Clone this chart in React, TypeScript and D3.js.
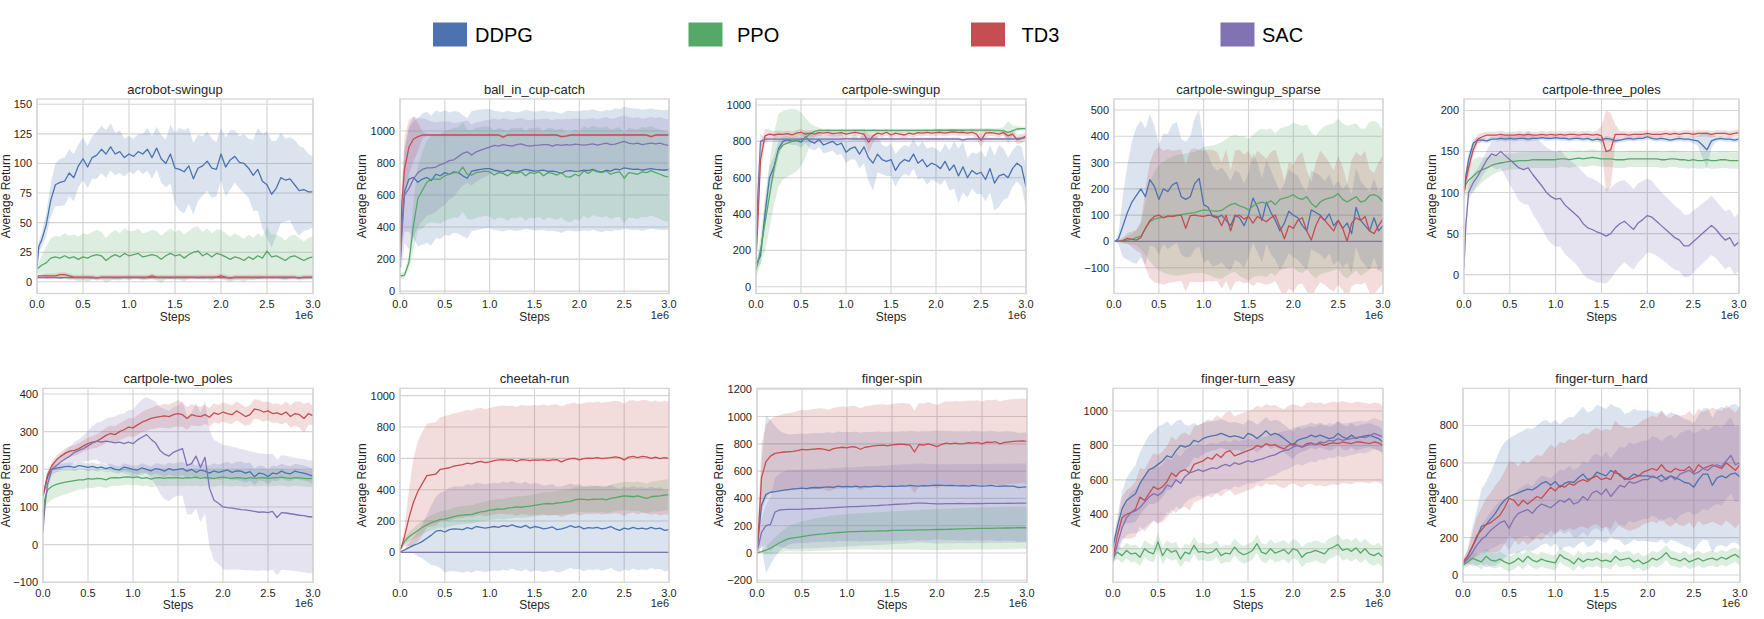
import React from "react";
import * as d3 from "d3";

// ---------- shared data ----------
const STEPS = [0, 0.02, 0.05, 0.1, 0.15, 0.2, 0.25, 0.3, 0.35, 0.4, 0.45, 0.5,
  0.55, 0.6, 0.65, 0.7, 0.75, 0.8, 0.85, 0.9, 0.95, 1.0,
  1.05, 1.1, 1.15, 1.2, 1.25, 1.3, 1.35, 1.4, 1.45, 1.5,
  1.55, 1.6, 1.65, 1.7, 1.75, 1.8, 1.85, 1.9, 1.95, 2.0,
  2.05, 2.1, 2.15, 2.2, 2.25, 2.3, 2.35, 2.4, 2.45, 2.5,
  2.55, 2.6, 2.65, 2.7, 2.75, 2.8, 2.85, 2.9, 2.95, 3.0];
const X_TICKS = [0, 0.5, 1.0, 1.5, 2.0, 2.5, 3.0];
const ALGOS = ["DDPG", "PPO", "TD3", "SAC"];
const TASKS = ["acrobot-swingup", "ball_in_cup-catch", "cartpole-swingup", "cartpole-swingup_sparse", "cartpole-three_poles",
  "cartpole-two_poles", "cheetah-run", "finger-spin", "finger-turn_easy", "finger-turn_hard"];
const Y_DOMAINS = [[-9.9, 154.5], [-15, 1200], [-37, 1033], [-198, 542], [-23, 214],
  [-100, 415], [-191, 1047], [-215, 1207], [5, 1132], [-39, 999]];
const Y_TICKS = [[0, 25, 50, 75, 100, 125, 150], [0, 200, 400, 600, 800, 1000], [0, 200, 400, 600, 800, 1000],
  [-100, 0, 100, 200, 300, 400, 500], [0, 50, 100, 150, 200], [-100, 0, 100, 200, 300, 400],
  [0, 200, 400, 600, 800, 1000], [-200, 0, 200, 400, 600, 800, 1000, 1200], [200, 400, 600, 800, 1000],
  [0, 200, 400, 600, 800]];

// ---------- acrobot-swingup ----------
const ACRO_DDPG = [12,30,35,48,69,82,84,85,92,88,98,104, 97,105,107,112,108,114,108,110,105,108, 106,110,108,112,105,113,104,100,108,96, 95,93,98,87,96,98,102,96,95,108, 97,103,106,101,100,96,90,95,85,82, 74,79,88,86,87,82,77,78,76,76];
const ACRO_DDPG_SD = [1,4,6,10,14,18,20,20,20,20,18,18, 18,18,20,20,20,20,18,18,16,15, 15,15,17,18,18,18,20,20,25,30, 35,35,32,30,28,25,25,25,23,22, 25,25,22,22,25,25,30,35,40,45, 45,40,38,35,35,38,38,35,32,30];
const ACRO_PPO = [11,12,14,16,20,21,20,22,20,21,19,21, 20,22,23,22,18,21,23,21,24,22, 23,24,21,22,23,22,19,22,24,22, 23,20,23,25,26,22,24,21,24,23, 21,19,21,20,18,21,19,22,20,26, 21,22,20,18,21,22,20,18,20,21];
const ACRO_PPO_SD = [2,5,8,14,17,18,18,19,19,19,19,20, 20,20,21,20,19,20,21,20,21,21, 20,21,20,20,21,21,20,20,21,20, 21,20,20,21,21,20,21,20,20,21, 20,19,20,19,18,19,18,19,18,20, 19,18,18,17,18,18,17,16,17,18];
const ACRO_TD3 = [4,5,5,5,5,5,6,6,5,4,4,4, 4,4,3,4,4,4,4,4,4,4, 4,4,4,4,5,4,4,4,4,4, 4,4,4,4,4,4,4,4,4,5, 4,3,4,4,4,4,4,4,4,4, 4,4,4,4,4,4,3,4,4,4];
const ACRO_TD3_SD = [1,1,1,2,2,2,2,2,2,2,2,2, 2,2,2,2,2,2,2,2,2,2, 2,2,2,2,2,2,2,2,2,2, 2,2,2,2,2,2,2,2,2,2, 2,2,2,2,2,2,2,2,2,2, 2,2,2,2,2,2,2,2,2,2];
const ACRO_SAC = [3,3.5,3.5,3.5,3.6,3.5,3.4,3.5,3.5,3.6,3.5,3.5, 3.5,3.4,3.5,3.6,3.5,3.5,3.4,3.5,3.5,3.6, 3.5,3.5,3.4,3.5,3.5,3.6,3.5,3.5,3.4,3.5, 3.5,3.6,3.5,3.5,3.4,3.5,3.5,3.6,3.8,3.5, 3.5,3.4,3.5,3.5,3.6,3.5,3.5,3.4,3.5,3.5, 3.6,3.5,3.5,3.4,3.5,3.5,3.6,3.5,3.5,3.5];
const ACRO_SAC_SD = [1,1,1,1,1,1,1,1,1,1,1,1, 1,1,1,1,1,1,1,1,1,1, 1,1,1,1,1,1,1,1,1,1, 1,1,1,1,1,1,1,1,1,1, 1,1,1,1,1,1,1,1,1,1, 1,1,1,1,1,1,1,1,1,1];

// ---------- ball_in_cup-catch ----------
const BALL_DDPG = [150,400,620,700,710,680,700,710,690,730,720,740, 730,745,740,720,705,750,755,760,765,765, 755,750,745,755,750,745,752,760,755,750, 752,755,748,750,745,735,750,752,748,750, 755,752,760,750,745,755,750,762,758,770, 765,760,762,755,760,765,760,758,755,760];
const BALL_DDPG_SD = [30,150,250,330,380,400,410,410,405,400,395,390, 385,380,380,378,376,375,375,374,373,372, 372,372,372,371,370,370,370,372,372,372, 372,373,373,372,372,372,373,374,375,375, 375,376,376,376,377,377,378,380,380,380, 380,380,378,378,376,376,375,375,374,374];
const BALL_PPO = [100,95,100,180,410,580,630,680,700,700,700,720, 730,740,740,775,730,725,740,745,750,745, 725,740,735,720,740,735,745,720,740,735, 745,720,740,735,725,740,715,712,730,720, 750,735,755,745,740,750,730,740,745,705, 740,735,730,745,740,752,740,730,718,712];
const BALL_PPO_SD = [20,20,20,40,150,200,240,260,270,275,280,280, 280,280,282,280,278,280,282,280,279,280, 281,280,278,280,282,280,279,280,281,280, 280,278,280,282,280,279,280,281,280,280, 280,282,280,279,280,281,280,278,280,282, 280,279,280,281,280,280,278,280,282,280];
const BALL_TD3 = [220,550,760,900,950,965,975,975,975,975,975,975, 975,975,975,975,975,975,975,975,975,975, 975,975,962,975,975,975,975,975,975,975, 975,975,975,975,975,965,968,975,975,975, 975,975,975,975,975,975,975,975,975,975, 975,975,975,975,975,965,975,975,975,975];
const BALL_TD3_SD = [30,120,200,170,140,90,20,8,8,8,8,8, 8,8,8,8,8,8,8,8,8,8, 8,8,8,8,8,8,8,8,8,8, 8,8,8,8,8,8,8,8,8,8, 8,8,8,8,8,8,8,8,8,8, 8,8,8,8,8,8,8,8,8,8];
const BALL_SAC = [150,350,600,640,700,740,760,770,770,775,790,800, 815,820,840,860,870,850,870,880,890,900, 910,905,915,910,905,915,920,910,905,910, 912,915,915,905,915,910,915,912,918,915, 912,915,920,912,918,925,915,918,928,935, 925,920,925,915,920,925,920,925,915,910];
const BALL_SAC_SD = [30,200,300,380,360,340,320,300,290,280,270,260, 245,230,215,200,195,190,185,180,175,170, 168,166,165,165,164,163,162,162,162,162, 162,162,162,162,162,162,162,162,162,162, 162,162,162,162,162,162,162,162,162,162, 162,162,162,162,162,162,162,162,162,162];

// ---------- cartpole-swingup ----------
const CPSU_DDPG = [130,140,170,400,600,660,760,800,810,800,805,795, 825,800,790,810,780,790,800,780,790,740, 760,770,730,770,710,680,730,700,690,700, 640,680,700,690,730,680,700,660,680,670, 650,690,640,670,610,660,600,640,620,630, 590,650,570,610,620,600,650,680,660,550];
const CPSU_DDPG_SD = [10,25,40,60,60,60,40,25,20,20,25,30, 35,40,40,40,45,50,50,55,60,60, 60,70,80,90,130,150,100,80,80,90, 90,80,80,80,80,90,100,100,90,90, 90,100,110,130,150,140,110,100,110,120, 120,130,150,170,140,110,100,100,110,110];
const CPSU_PPO = [90,130,200,350,500,650,750,780,790,800,805,810, 820,840,855,860,860,860,860,860,860,860, 860,860,860,860,860,860,860,860,860,860, 860,860,860,860,860,860,860,860,860,861, 861,861,861,861,861,861,862,862,862,862, 862,862,862,860,858,850,858,868,870,870];
const CPSU_PPO_SD = [30,50,80,150,180,200,200,190,185,180,170,150, 110,60,30,15,10,10,10,10,10,10, 10,10,10,10,10,10,10,10,10,10, 10,10,10,10,10,10,10,10,10,10, 10,10,10,10,10,10,10,10,10,10, 10,10,10,12,20,60,30,15,10,10];
const CPSU_TD3 = [150,350,700,830,840,835,840,838,842,835,845,850, 840,845,840,848,845,850,843,845,848,840, 845,850,845,840,795,830,845,840,850,835, 845,840,835,845,840,848,845,850,845,848, 850,845,850,852,848,850,845,850,840,805, 845,848,845,840,848,830,840,810,815,830];
const CPSU_TD3_SD = [20,60,80,40,25,20,20,18,18,18,18,18, 18,18,18,18,18,18,18,18,18,18, 18,18,20,30,60,40,20,18,18,18, 18,18,18,18,18,18,18,18,18,18, 18,18,18,18,18,18,18,18,25,40, 25,18,18,18,18,20,20,25,25,20];
const CPSU_SAC = [150,500,800,812,812,812,812,812,812,812,812,812, 812,812,812,812,812,812,812,812,813,815, 814,813,813,813,813,813,813,813,813,813, 813,813,813,813,813,813,813,813,813,813, 813,813,813,813,813,808,813,813,813,813, 813,813,813,813,813,813,813,815,818,820];
const CPSU_SAC_SD = [20,60,40,10,8,8,8,8,8,8,8,8, 8,8,8,8,8,8,8,8,8,8, 8,8,8,8,8,8,8,8,8,8, 8,8,8,8,8,8,8,8,8,8, 8,8,8,8,8,8,8,8,8,8, 8,8,8,8,8,8,8,8,8,8];

// ---------- cartpole-swingup_sparse ----------
const CPSS_DDPG = [0,2,10,60,110,150,175,200,170,235,210,160, 200,190,215,225,170,160,170,220,240,140, 130,95,90,100,80,60,100,90,60,100, 165,130,80,150,110,80,40,70,115,100, 90,60,40,120,110,100,80,105,60,80, 50,70,30,130,80,60,40,90,40,60];
const CPSS_DDPG_SD = [0,5,20,120,180,230,260,260,260,250,230,210, 210,220,230,230,220,220,230,250,260,220, 200,190,180,180,180,170,170,170,160,160, 170,170,160,160,160,150,150,150,160,160, 160,150,150,150,150,150,150,150,150,150, 150,150,150,150,150,150,150,150,150,150];
const CPSS_PPO = [0,0,2,3,5,8,15,20,50,75,85,90, 92,95,97,100,102,105,108,110,115,120, 118,116,115,118,130,140,145,135,130,120, 135,145,150,145,155,140,160,165,170,178, 165,160,170,145,130,150,160,165,170,182, 160,150,160,170,150,155,175,178,170,150];
const CPSS_PPO_SD = [0,0,5,10,15,20,30,50,100,150,180,200, 210,220,225,230,230,230,230,230,235,240, 245,250,255,260,260,260,260,265,270,270, 270,275,280,280,275,270,270,270,270,275, 280,280,275,270,270,275,280,280,280,285, 290,290,285,280,280,275,280,280,280,270];
const CPSS_TD3 = [0,0,0,3,12,8,5,15,50,80,95,100, 90,97,95,98,100,50,98,100,97,95, 100,98,95,60,100,40,95,100,85,95, 70,95,85,75,90,100,55,10,60,50, 80,90,40,5,60,95,80,60,40,80, 50,0,70,90,80,95,40,30,60,85];
const CPSS_TD3_SD = [0,0,0,10,20,30,40,60,150,220,250,260, 255,255,250,250,250,240,250,255,250,250, 250,250,245,240,250,230,250,250,245,250, 240,250,245,240,250,250,240,220,240,240, 245,250,230,220,240,250,245,240,230,245, 235,220,240,250,245,250,235,230,240,245];
const CPSS_SAC = [0,0,0,0,0,0,0,0,0,0,0,0, 0,0,0,0,0,0,0,0,0,0, 0,0,0,0,0,0,0,0,0,0, 0,0,0,0,0,0,0,0,0,0, 0,0,0,0,0,0,0,0,0,0, 0,0,0,0,0,0,0,0,0,0];
const CPSS_SAC_SD = [0,0,0,0,0,0,0,0,0,0,0,0, 0,0,0,0,0,0,0,0,0,0, 0,0,0,0,0,0,0,0,0,0, 0,0,0,0,0,0,0,0,0,0, 0,0,0,0,0,0,0,0,0,0, 0,0,0,0,0,0,0,0,0,0];

// ---------- cartpole-three_poles ----------
const CP3P_DDPG = [100,120,140,160,164,164,163,165,165,166,165,166, 165,166,166,165,166,166,167,166,166,167, 166,166,165,166,166,165,166,164,165,164, 166,165,163,164,165,166,165,166,166,168, 166,165,166,165,164,165,166,165,165,164, 163,158,152,163,165,166,165,165,164,165];
const CP3P_DDPG_SD = [5,8,8,5,4,3,3,3,3,3,3,3, 3,3,3,3,3,3,3,3,3,3, 3,3,3,3,3,3,3,3,3,3, 3,3,3,3,3,3,3,3,3,3, 3,3,3,3,3,3,3,3,3,4, 6,15,22,8,3,3,3,3,3,3];
const CP3P_PPO = [100,110,115,120,125,128,130,133,135,136,137,138, 138,139,139,139,140,140,140,140,140,140, 141,141,140,141,142,141,142,143,142,141, 141,141,140,140,140,141,141,141,141,141, 141,141,140,140,141,141,140,140,139,140, 139,139,140,139,139,140,140,139,139,139];
const CP3P_PPO_SD = [10,14,16,20,18,15,13,12,11,10,10,10, 10,10,10,10,10,10,10,10,10,10, 10,10,10,10,10,10,10,10,10,10, 10,10,10,10,10,10,10,10,10,10, 10,10,10,10,10,10,10,10,10,10, 10,10,10,10,10,10,10,10,10,10];
const CP3P_TD3 = [100,115,130,152,165,168,170,170,170,171,170,170, 170,171,170,171,170,170,171,170,171,170, 171,170,171,171,170,171,171,170,171,169, 150,152,171,171,171,170,171,171,171,172, 171,171,171,172,171,172,171,172,172,171, 172,172,172,171,172,172,172,171,172,173];
const CP3P_TD3_SD = [5,8,10,8,6,5,4,4,4,4,4,4, 4,4,4,4,4,4,4,4,4,4, 4,4,4,4,4,4,4,4,4,12, 50,45,12,4,4,4,4,4,4,4, 4,4,4,4,4,4,4,4,4,4, 4,4,4,4,4,4,4,4,4,4];
const CP3P_SAC = [8,60,100,112,120,130,140,147,145,150,145,140, 135,130,128,130,122,115,108,100,95,92, 93,85,80,75,70,62,57,55,52,50, 47,50,57,62,65,60,55,63,67,72, 70,65,60,55,50,45,42,35,35,40, 45,50,55,60,55,48,42,45,35,40];
const CP3P_SAC_SD = [5,8,10,10,10,10,12,15,17,20,25,30, 35,40,42,45,48,50,52,55,57,58, 59,60,60,60,61,62,62,62,62,60, 58,55,54,52,50,50,49,48,47,45, 44,42,41,40,40,39,38,38,38,38, 37,37,36,36,35,35,35,35,35,35];

// ---------- cartpole-two_poles ----------
const CP2P_DDPG = [130,150,180,200,203,205,207,208,205,210,208,205, 208,204,206,202,205,200,198,206,203,200, 198,204,200,196,202,200,195,202,198,200, 202,195,200,192,198,195,190,196,192,195, 198,192,196,195,190,194,180,190,188,180, 190,188,195,190,188,195,192,190,186,182];
const CP2P_DDPG_SD = [10,12,12,10,10,10,10,10,10,10,10,10, 10,10,10,10,10,10,10,10,10,10, 12,12,12,12,14,15,16,16,17,18, 18,18,18,18,18,18,20,20,20,22, 22,22,24,26,26,24,22,20,20,20, 20,20,20,20,20,20,20,20,20,20];
const CP2P_PPO = [70,120,145,155,160,163,166,168,170,172,172,175, 174,176,175,172,177,178,177,179,180,178, 180,176,178,174,177,178,176,178,177,178, 176,178,177,179,176,178,177,175,178,179, 177,176,178,177,175,178,176,177,178,176, 177,178,179,177,176,178,177,176,175,176];
const CP2P_PPO_SD = [20,30,35,35,35,33,32,30,28,26,25,24, 24,23,22,22,22,22,21,21,21,21, 21,21,21,22,22,22,22,22,22,22, 22,22,22,22,22,22,22,22,22,22, 22,22,22,22,22,22,22,22,22,22, 22,22,22,22,22,22,22,22,22,22];
const CP2P_TD3 = [130,150,185,210,225,235,243,248,250,255,262,268, 272,275,282,290,295,292,300,305,312,310, 318,325,330,335,338,340,342,340,345,348, 345,335,345,342,340,345,338,350,346,352, 348,345,355,348,340,345,360,358,352,355, 348,350,345,352,340,348,345,335,348,342];
const CP2P_TD3_SD = [5,8,10,10,12,12,13,14,14,15,15,16, 17,18,19,20,21,22,22,23,24,25, 26,27,28,28,30,30,32,32,33,35, 32,30,28,27,26,25,25,25,25,25, 25,25,25,25,25,26,26,26,26,25, 25,25,26,28,30,32,35,38,30,25];
const CP2P_SAC = [35,100,160,200,210,220,228,235,245,250,255,262, 270,275,272,275,273,270,272,268,272,268, 278,285,292,280,270,250,240,235,245,250, 255,210,215,235,205,232,150,118,110,100, 98,97,95,93,92,90,88,86,87,85, 88,72,85,84,82,80,78,77,74,74];
const CP2P_SAC_SD = [10,15,15,15,18,20,22,25,28,30,35,40, 45,50,55,60,65,70,75,80,85,90, 95,100,100,105,110,115,120,120,120,120, 125,130,135,140,145,150,155,160,162,165, 165,163,162,160,160,158,157,156,155,155, 154,153,152,152,151,150,150,150,150,150];

// ---------- cheetah-run ----------
const CH_DDPG = [5,8,15,30,45,55,70,90,110,135,140,130, 145,150,148,145,158,150,165,160,155,160, 165,160,170,165,175,165,160,172,155,165, 160,150,155,162,145,150,158,170,160,165, 150,158,155,160,150,155,165,150,140,155, 148,160,150,155,148,160,150,155,140,145];
const CH_DDPG_SD = [2,5,10,30,50,80,110,150,190,220,240,260, 265,270,272,275,278,280,280,280,280,280, 280,280,280,280,280,280,280,280,280,280, 278,276,275,274,273,272,271,270,270,270, 270,268,268,267,266,265,265,265,265,265, 264,263,262,262,261,260,260,260,260,260];
const CH_PPO = [15,40,70,100,120,140,160,175,190,200,210,212, 220,228,235,238,240,242,250,258,262,270, 272,278,275,282,285,290,288,292,295,300, 305,310,312,310,315,318,322,325,335,340, 338,335,340,338,342,335,345,350,355,360, 358,355,360,352,345,355,358,360,365,368];
const CH_PPO_SD = [5,10,20,30,35,40,42,45,48,50,52,55, 55,56,57,58,58,59,60,60,61,62, 63,64,65,66,67,68,69,70,70,71, 72,73,74,75,76,77,78,79,80,80, 81,82,83,84,85,86,87,88,89,90, 91,92,93,94,95,96,97,98,99,100];
const CH_TD3 = [15,40,100,220,320,390,440,490,495,500,530,535, 540,550,555,560,570,565,575,580,572,578, 585,590,592,588,590,580,592,590,585,590, 588,592,585,590,592,578,590,598,600,590, 598,602,600,605,598,602,605,610,605,590, 608,612,605,612,610,600,608,598,605,600];
const CH_TD3_SD = [5,20,60,180,280,320,330,330,330,330,332,335, 336,338,338,340,340,340,342,342,342,343, 343,344,345,346,346,347,348,348,350,350, 350,351,352,352,353,353,354,354,355,355, 355,356,356,357,357,357,358,358,358,358, 359,359,360,360,360,360,361,362,362,362];
const CH_SAC = [0,0,0,0,0,0,0,0,0,0,0,0, 0,0,0,0,0,0,0,0,0,0, 0,0,0,0,0,0,0,0,0,0, 0,0,0,0,0,0,0,0,0,0, 0,0,0,0,0,0,0,0,0,0, 0,0,0,0,0,0,0,0,0,0];
const CH_SAC_SD = [1,1,1,1,1,1,1,1,1,1,1,1, 1,1,1,1,1,1,1,1,1,1, 1,1,1,1,1,1,1,1,1,1, 1,1,1,1,1,1,1,1,1,1, 1,1,1,1,1,1,1,1,1,1, 1,1,1,1,1,1,1,1,1,1];

// ---------- finger-spin ----------
const FS_DDPG = [20,150,350,430,445,450,455,460,465,470,472,475, 472,478,480,478,482,485,480,490,485,488, 485,490,482,488,485,488,490,487,488,490, 488,492,490,495,492,490,494,492,495,498, 496,494,495,493,492,494,490,495,492,490, 492,495,490,488,492,490,490,480,482,485];
const FS_DDPG_SD = [20,150,300,580,530,480,440,420,405,400,400,400, 400,400,400,400,400,400,400,400,400,400, 400,400,400,400,400,400,400,400,400,400, 400,400,400,400,400,400,400,400,400,400, 400,400,400,400,400,400,400,400,400,400, 400,400,400,400,400,400,400,400,400,400];
const FS_PPO = [0,5,10,20,35,55,75,90,105,110,115,120, 125,130,135,138,140,145,148,150,152,155, 156,157,158,159,160,160,161,162,163,165, 165,166,167,168,168,169,170,170,171,172, 172,173,174,175,176,177,178,179,180,180, 181,181,182,182,183,183,184,185,186,185];
const FS_PPO_SD = [0,5,10,30,45,60,70,80,90,100,105,110, 113,116,119,122,124,126,128,129,130,130, 131,132,133,134,135,136,137,138,139,140, 141,142,143,144,145,146,147,148,149,150, 150,151,151,152,152,153,153,154,154,155, 155,155,155,155,155,155,155,155,155,155];
const FS_TD3 = [20,200,550,670,710,730,735,740,742,745,750,760, 755,760,762,765,760,750,765,770,775,770, 780,775,760,775,780,785,788,790,785,792, 795,798,795,790,740,795,790,800,790,780, 795,805,800,805,800,802,808,805,810,800, 812,810,815,800,810,815,818,820,822,818];
const FS_TD3_SD = [20,150,250,270,270,270,275,280,282,285,288,290, 292,294,295,296,297,298,299,300,300,300, 300,300,300,300,300,300,300,300,300,300, 300,301,302,303,304,305,305,305,305,305, 306,307,308,309,310,310,310,310,310,310, 310,310,310,310,310,310,310,310,310,310];
const FS_SAC = [20,60,150,200,210,300,315,318,320,320,320,322, 323,324,325,327,328,330,332,334,336,338, 339,340,342,344,345,347,348,350,352,355, 357,358,360,362,365,366,365,363,362,360, 360,361,362,362,363,362,361,362,363,362, 363,364,364,363,364,365,364,365,366,365];
const FS_SAC_SD = [10,40,100,150,200,250,270,280,290,290,290,290, 290,290,290,290,290,290,290,290,290,290, 290,290,290,290,290,290,290,290,290,290, 290,290,290,290,290,290,290,290,290,290, 290,290,290,290,290,290,290,290,290,290, 290,290,290,290,290,290,290,290,290,290];

// ---------- finger-turn_easy ----------
const FTE_DDPG = [210,260,330,430,480,500,520,580,620,660,670,690, 710,740,730,770,800,790,800,830,820,840, 850,855,860,870,860,850,855,850,840,870, 860,840,860,885,860,870,860,840,820,800, 830,840,845,860,850,860,850,840,845,870, 850,840,860,840,850,855,860,850,840,820];
const FTE_DDPG_SD = [20,40,60,100,130,150,165,180,190,200,210,220, 210,200,185,170,150,130,115,100,95,90, 88,86,85,84,83,82,81,80,80,80, 80,80,80,80,80,80,80,80,80,80, 78,76,75,74,73,72,71,70,70,70, 70,70,70,70,70,70,70,70,70,70];
const FTE_PPO = [170,165,180,160,190,170,175,150,200,180,170,240, 160,200,180,190,140,180,170,220,180,185, 175,180,200,160,175,170,210,180,165,175, 190,230,180,170,200,175,185,195,170,200, 190,150,175,180,190,180,170,200,210,225, 190,200,185,205,175,200,170,160,175,150];
const FTE_PPO_SD = [30,35,40,45,45,50,50,50,50,50,50,50, 50,50,50,50,50,50,50,50,50,50, 50,50,50,50,50,50,50,50,52,52, 52,54,54,55,55,55,56,56,56,57, 57,58,58,58,59,59,60,60,60,60, 60,60,60,60,60,60,60,60,60,60];
const FTE_TD3 = [150,200,280,380,400,410,430,500,480,520,560,545, 560,590,640,620,650,660,640,690,700,710, 730,720,750,730,760,770,740,750,760,770, 780,800,790,810,800,805,790,780,800,810, 800,790,810,815,805,810,800,810,815,810, 820,815,810,820,820,815,810,820,815,800];
const FTE_TD3_SD = [20,50,80,120,140,150,160,170,180,190,195,200, 205,208,210,212,214,216,218,220,220,220, 222,224,226,228,230,230,230,230,230,230, 230,230,230,230,230,230,230,230,230,230, 232,234,236,238,240,240,240,240,240,240, 238,236,235,234,233,232,231,230,230,230];
const FTE_SAC = [130,170,230,320,380,410,420,440,470,500,520,510, 530,570,560,600,580,620,640,650,660,650, 660,670,665,680,690,680,700,690,700,710, 705,715,720,730,740,745,760,770,775,790, 800,790,800,810,805,820,815,830,825,840, 830,835,840,845,850,845,855,870,860,850];
const FTE_SAC_SD = [20,40,60,80,100,120,130,140,150,155,160,160, 160,158,156,155,154,153,152,151,150,150, 148,146,144,142,140,138,136,134,132,130, 128,126,124,122,120,118,116,114,112,110, 108,106,104,103,102,101,100,100,100,100, 98,96,95,94,93,92,91,90,90,90];

// ---------- finger-turn_hard ----------
const FTH_DDPG = [60,80,100,150,200,260,270,300,330,370,400,420, 430,440,450,460,455,470,490,500,480,500, 470,490,500,495,520,540,510,520,550,540, 530,560,545,540,510,520,540,530,530,530, 525,520,535,510,530,520,510,495,490,470, 510,540,540,480,520,530,520,540,545,525];
const FTH_DDPG_SD = [15,25,40,100,150,200,230,250,280,300,310,310, 315,320,322,325,326,328,330,330,330,330, 335,340,345,350,355,360,360,360,360,360, 358,356,355,354,352,350,350,350,350,350, 348,346,345,344,342,340,340,340,340,340, 345,350,355,360,365,370,370,370,370,370];
const FTH_PPO = [50,60,70,90,80,70,100,80,75,85,70,60, 70,90,70,100,80,70,85,75,70,65, 110,90,80,60,90,70,85,80,90,75, 80,70,100,80,85,90,70,80,60,70, 90,80,95,120,90,85,75,90,70,80, 90,75,85,90,80,95,85,100,110,90];
const FTH_PPO_SD = [15,20,25,30,35,40,40,40,40,40,40,40, 40,40,40,40,40,40,40,40,40,40, 40,40,40,40,40,40,40,40,40,40, 40,40,40,40,40,40,40,40,40,40, 40,40,40,40,40,40,40,40,40,40, 40,40,40,40,40,40,40,40,40,40];
const FTH_TD3 = [70,80,100,150,210,240,270,280,300,320,360,410, 400,370,400,380,400,420,410,440,470,450, 480,470,490,480,500,510,500,520,530,510, 520,510,560,530,520,510,520,530,550,560, 570,560,590,560,550,570,560,560,580,550, 590,570,580,590,580,570,600,580,560,590];
const FTH_TD3_SD = [15,20,30,70,100,120,140,160,180,190,195,200, 205,210,215,218,220,222,225,228,230,230, 232,235,238,240,245,250,252,255,258,260, 262,265,268,270,272,275,276,278,279,280, 282,284,286,288,290,292,294,296,298,300, 300,302,304,305,306,307,308,309,310,310];
const FTH_SAC = [60,70,85,120,160,190,210,240,260,280,290,250, 300,330,340,350,330,360,380,370,360,380, 400,390,410,380,390,420,400,440,450,430, 460,420,450,480,470,500,490,500,510,510, 530,520,500,520,530,510,540,550,560,540, 550,570,560,580,590,580,610,640,590,600];
const FTH_SAC_SD = [10,20,30,40,60,80,90,100,110,115,120,120, 125,130,135,140,145,150,152,155,158,160, 165,170,175,180,185,190,195,198,200,200, 202,204,206,208,210,210,210,210,210,210, 212,214,216,218,220,220,220,220,220,220, 218,216,214,212,210,208,206,204,202,200];

// table built from the arrays: per panel, [mean, sd] for DDPG, PPO, TD3, SAC
const SERIES = [
  [[ACRO_DDPG, ACRO_DDPG_SD], [ACRO_PPO, ACRO_PPO_SD], [ACRO_TD3, ACRO_TD3_SD], [ACRO_SAC, ACRO_SAC_SD]],
  [[BALL_DDPG, BALL_DDPG_SD], [BALL_PPO, BALL_PPO_SD], [BALL_TD3, BALL_TD3_SD], [BALL_SAC, BALL_SAC_SD]],
  [[CPSU_DDPG, CPSU_DDPG_SD], [CPSU_PPO, CPSU_PPO_SD], [CPSU_TD3, CPSU_TD3_SD], [CPSU_SAC, CPSU_SAC_SD]],
  [[CPSS_DDPG, CPSS_DDPG_SD], [CPSS_PPO, CPSS_PPO_SD], [CPSS_TD3, CPSS_TD3_SD], [CPSS_SAC, CPSS_SAC_SD]],
  [[CP3P_DDPG, CP3P_DDPG_SD], [CP3P_PPO, CP3P_PPO_SD], [CP3P_TD3, CP3P_TD3_SD], [CP3P_SAC, CP3P_SAC_SD]],
  [[CP2P_DDPG, CP2P_DDPG_SD], [CP2P_PPO, CP2P_PPO_SD], [CP2P_TD3, CP2P_TD3_SD], [CP2P_SAC, CP2P_SAC_SD]],
  [[CH_DDPG, CH_DDPG_SD], [CH_PPO, CH_PPO_SD], [CH_TD3, CH_TD3_SD], [CH_SAC, CH_SAC_SD]],
  [[FS_DDPG, FS_DDPG_SD], [FS_PPO, FS_PPO_SD], [FS_TD3, FS_TD3_SD], [FS_SAC, FS_SAC_SD]],
  [[FTE_DDPG, FTE_DDPG_SD], [FTE_PPO, FTE_PPO_SD], [FTE_TD3, FTE_TD3_SD], [FTE_SAC, FTE_SAC_SD]],
  [[FTH_DDPG, FTH_DDPG_SD], [FTH_PPO, FTH_PPO_SD], [FTH_TD3, FTH_TD3_SD], [FTH_SAC, FTH_SAC_SD]],
];

// ---------- styles / layout ----------
const COLORS = ["#4c72b0", "#55a868", "#c44e52", "#8172b2"];
const FONT = '"Liberation Sans", Arial, Helvetica, sans-serif';
const TEXT = "#262626";
const GRID = "#d4d4d4";
const BOXES = [
  { l: 37, r: 313, t: 99, b: 293.5, lab: 31 },
  { l: 400, r: 669, t: 99, b: 293.5, lab: 38 },
  { l: 756, r: 1026, t: 99, b: 293.5, lab: 38 },
  { l: 1114, r: 1383, t: 99, b: 293.5, lab: 38 },
  { l: 1464, r: 1739, t: 99, b: 293.5, lab: 32 },
  { l: 43, r: 313, t: 388.3, b: 582.3, lab: 37 },
  { l: 400, r: 669, t: 388.3, b: 582.3, lab: 38 },
  { l: 757, r: 1027, t: 388.3, b: 582.3, lab: 38.5 },
  { l: 1113, r: 1383, t: 388.3, b: 582.3, lab: 37 },
  { l: 1463, r: 1740, t: 388.3, b: 582.3, lab: 31 },
];
const LEGEND = [
  { px: 433, tx: 475 },
  { px: 688.5, tx: 737 },
  { px: 971, tx: 1021.5 },
  { px: 1220.5, tx: 1262 },
];

const fmtY = (v: number) => (v < 0 ? "\u2212" + Math.abs(v) : String(v));

function Panel({ idx }: { idx: number }) {
  const box = BOXES[idx];
  const x = d3.scaleLinear().domain([0, 3]).range([box.l, box.r]);
  const y = d3.scaleLinear().domain(Y_DOMAINS[idx]).range([box.b, box.t]);
  const clipId = `clip-${idx}`;
  const series = SERIES[idx];
  const lineGen = d3.line<number>().x((_, i) => x(STEPS[i])).y((d) => y(d));
  const bands = series.map(([mean, sd]) =>
    d3.area<number>()
      .x((_, i) => x(STEPS[i]))
      .y0((d, i) => y(d - sd[i]))
      .y1((d, i) => y(d + sd[i]))(mean)
  );
  const cx = (box.l + box.r) / 2;
  const cy = (box.t + box.b) / 2;
  return (
    <g>
      <defs>
        <clipPath id={clipId}>
          <rect x={box.l} y={box.t} width={box.r - box.l} height={box.b - box.t} />
        </clipPath>
      </defs>
      {/* grid */}
      {X_TICKS.map((t) => (
        <line key={"gx" + t} x1={x(t)} x2={x(t)} y1={box.t} y2={box.b} stroke={GRID} strokeWidth={1.1} />
      ))}
      {Y_TICKS[idx].map((t) => (
        <line key={"gy" + t} x1={box.l} x2={box.r} y1={y(t)} y2={y(t)} stroke={GRID} strokeWidth={1.1} />
      ))}
      <g clipPath={`url(#${clipId})`}>
        {bands.map((d, k) => (
          <path key={"b" + k} d={d || ""} fill={COLORS[k]} fillOpacity={0.2} stroke="none" />
        ))}
        {series.map(([mean], k) => (
          <path key={"l" + k} d={lineGen(mean) || ""} fill="none" stroke={COLORS[k]} strokeWidth={1.3}
            strokeLinejoin="round" strokeLinecap="round" />
        ))}
      </g>
      <rect x={box.l} y={box.t} width={box.r - box.l} height={box.b - box.t} fill="none" stroke={GRID} strokeWidth={1.3} />
      {/* x ticks */}
      {X_TICKS.map((t) => (
        <text key={"tx" + t} x={x(t)} y={box.b + 14.8} textAnchor="middle" fontSize={11} fill={TEXT}>
          {t.toFixed(1)}
        </text>
      ))}
      {Y_TICKS[idx].map((t) => (
        <text key={"ty" + t} x={box.l - 5} y={y(t)} dy="0.36em" textAnchor="end" fontSize={11} fill={TEXT}>
          {fmtY(t)}
        </text>
      ))}
      <text x={cx} y={box.b + 27} textAnchor="middle" fontSize={12} fill={TEXT}>Steps</text>
      <text x={box.r} y={box.b + 25} textAnchor="end" fontSize={11} fill={TEXT}>1e6</text>
      <text transform={`translate(${box.l - box.lab},${cy}) rotate(-90)`} dy="0.36em" textAnchor="middle" fontSize={12} fill={TEXT}>
        Average Return
      </text>
      <text x={cx} y={box.t - 5.5} textAnchor="middle" fontSize={13} fill={TEXT}>{TASKS[idx]}</text>
    </g>
  );
}

export default function App() {
  return (
    <svg width={1764} height={619} viewBox="0 0 1764 619"
      style={{ position: "absolute", left: 0, top: 0, background: "#ffffff", fontFamily: FONT }}>
      <rect x={0} y={0} width={1764} height={619} fill="#ffffff" />
      {ALGOS.map((a, k) => (
        <g key={a}>
          <rect x={LEGEND[k].px} y={22.5} width={34} height={24} fill={COLORS[k]} />
          <text x={LEGEND[k].tx} y={42} fontSize={20} fill="#000">{a}</text>
        </g>
      ))}
      {TASKS.map((_, i) => <Panel key={i} idx={i} />)}
    </svg>
  );
}
